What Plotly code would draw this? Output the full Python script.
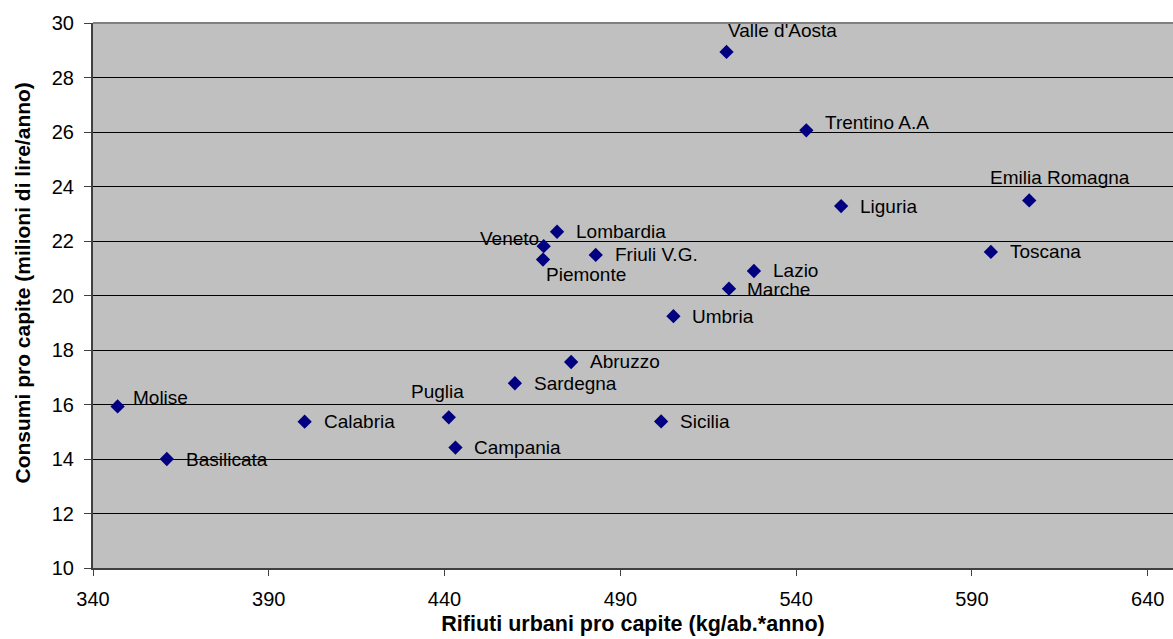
import plotly.graph_objects as go

# Regional data: urban waste per capita vs consumption per capita
regioni = ["Molise", "Basilicata", "Calabria", "Puglia", "Campania", "Sicilia",
           "Sardegna", "Abruzzo", "Umbria", "Marche", "Lazio", "Veneto",
           "Piemonte", "Lombardia", "Friuli V.G.", "Valle d'Aosta",
           "Trentino A.A", "Liguria", "Emilia Romagna", "Toscana"]
rifiuti = [347.0, 361.0, 400.2, 441.2, 443.1, 501.6,
           460.0, 476.0, 505.1, 520.9, 528.0, 468.2,
           468.0, 472.0, 483.0, 520.2,
           542.9, 552.8, 606.3, 595.4]
consumi = [15.93, 14.00, 15.37, 15.53, 14.42, 15.38,
           16.78, 17.56, 19.24, 20.25, 20.90, 21.81,
           21.32, 22.34, 21.49, 28.94,
           26.06, 23.28, 23.49, 21.60]

x_ticks = [340, 390, 440, 490, 540, 590, 640]
y_ticks = [10, 12, 14, 16, 18, 20, 22, 24, 26, 28, 30]

x_title = "Rifiuti urbani pro capite (kg/ab.*anno)"
y_title = "Consumi pro capite (milioni di lire/anno)"

FONT = "Liberation Sans, Arial, sans-serif"

# label placement per region: (xanchor, yanchor, xshift, yshift)
label_pos = {
    "Molise": ("left", "middle", 13, 9),
    "Puglia": ("center", "middle", -11, 26),
    "Veneto": ("right", "middle", -3, 8),
    "Piemonte": ("left", "middle", 1, -15),
    "Valle d'Aosta": ("left", "middle", -1, 21),
    "Trentino A.A": ("left", "middle", 17, 8),
    "Emilia Romagna": ("center", "middle", 31, 23),
    "Marche": ("left", "middle", 16, -1),
}

fig = go.Figure()
fig.add_trace(go.Scatter(
    x=rifiuti, y=consumi, mode="markers",
    marker=dict(symbol="diamond", size=11, color="#000080",
                line=dict(width=0)),
    showlegend=False, hoverinfo="text", text=regioni,
))

for name, xv, yv in zip(regioni, rifiuti, consumi):
    xa, ya, dx, dy = label_pos.get(name, ("left", "middle", 17, 0))
    fig.add_annotation(
        x=xv, y=yv, text=name, showarrow=False,
        xanchor=xa, yanchor=ya, xshift=dx, yshift=dy,
        font=dict(family=FONT, size=19, color="#000000"),
    )

fig.update_layout(
    width=1173, height=639,
    margin=dict(l=93, r=0, t=23, b=71),
    paper_bgcolor="#ffffff",
    plot_bgcolor="#c0c0c0",
    font=dict(family=FONT, color="#000000"),
)
fig.update_xaxes(
    range=[340, 647.2], tickvals=x_ticks, ticktext=[str(v) for v in x_ticks],
    showgrid=False, zeroline=False,
    showline=True, linecolor="#404040", linewidth=2, mirror=False,
    ticks="outside", ticklen=6, tickcolor="#404040", tickwidth=1,
    tickfont=dict(size=20), ticklabelstandoff=6,
    title=dict(text="<b>" + x_title + "</b>", font=dict(size=21.5), standoff=7),
)
fig.update_yaxes(
    range=[10, 30], tickvals=y_ticks, ticktext=[str(v) for v in y_ticks],
    showgrid=True, gridcolor="#000000", gridwidth=1, zeroline=False,
    showline=True, linecolor="#404040", linewidth=2,
    ticks="outside", ticklen=7, tickcolor="#404040", tickwidth=1,
    tickfont=dict(size=20), ticklabelstandoff=6,
)
# vertical axis title
fig.add_annotation(
    xref="paper", yref="paper", x=0, y=0.5, xshift=-71, yshift=12,
    text="<b>" + y_title + "</b>", textangle=-90, showarrow=False,
    xanchor="center", yanchor="middle",
    font=dict(family=FONT, size=21, color="#000000"),
)
# gray plot-area border along the top edge
fig.add_shape(type="line", xref="paper", yref="paper", x0=0, x1=1, y0=1, y1=1,
              line=dict(color="#808080", width=2))

fig.write_html("out.html")
